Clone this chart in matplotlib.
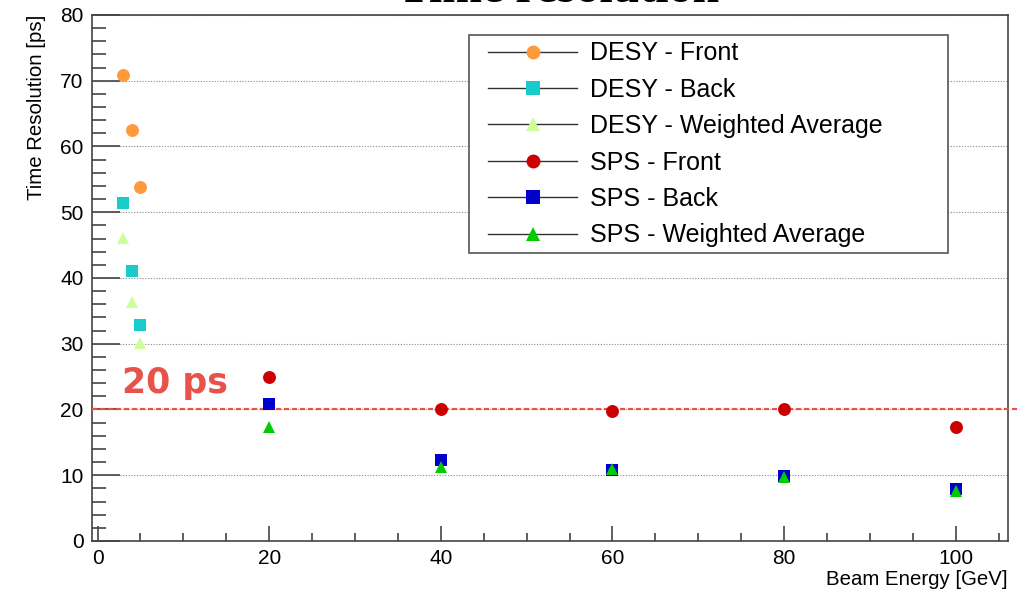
import numpy as np
import matplotlib
matplotlib.use("Agg")
from matplotlib import pyplot as plt
from matplotlib.ticker import MultipleLocator
from matplotlib.patches import Rectangle

# beam energies [GeV]
desy_E = [3, 4, 5]
sps_E = [20, 40, 60, 80, 100]

# time resolutions [ps]
desy_front = [70.8, 62.5, 53.8]
desy_back = [51.4, 41.0, 32.8]
desy_avg = [46.1, 36.3, 30.1]
sps_front = [24.9, 20.1, 19.7, 20.0, 17.4]
sps_back = [20.8, 12.3, 10.8, 9.9, 7.9]
sps_avg = [17.3, 11.3, 10.9, 9.8, 7.6]

ref_level = 20

plt.rcParams['font.family'] = ['Liberation Sans', 'DejaVu Sans']

W, H = 1019, 590
fig = plt.figure(figsize=(W / 100, H / 100), dpi=100)
ax = fig.add_axes([0.0903, 0.0831, 0.8989, 0.8915])

ms = 9.3
series = [
    (desy_E, desy_front, 'o', '#ff9a3c', 'DESY - Front'),
    (desy_E, desy_back, 's', '#19cccc', 'DESY - Back'),
    (desy_E, desy_avg, '^', '#ccff99', 'DESY - Weighted Average'),
    (sps_E, sps_front, 'o', '#cc0000', 'SPS - Front'),
    (sps_E, sps_back, 's', '#0000cc', 'SPS - Back'),
    (sps_E, sps_avg, '^', '#00cc00', 'SPS - Weighted Average'),
]
for x, y, m, c, lab in series:
    ax.plot(x, y, linestyle='none', marker=m, ms=ms, color=c,
            markeredgewidth=0, zorder=5, label=lab)

# 20 ps reference line (runs past the frame)
ax.axhline(ref_level, xmin=0, xmax=1.015, color='#e8524a', lw=1.6,
           linestyle=(0, (2.3, 1.3)), clip_on=False, zorder=4)
ax.text(2.8, 22.45, '20 ps', color='#e8524a', fontsize=25,
        family=['DejaVu Sans'], fontweight='bold',
        va='baseline', ha='left')

ax.set_xlim(-0.65, 106.1)
ax.set_ylim(0, 80)
ax.xaxis.set_major_locator(MultipleLocator(20))
ax.xaxis.set_minor_locator(MultipleLocator(5))
ax.yaxis.set_major_locator(MultipleLocator(10))
ax.yaxis.set_minor_locator(MultipleLocator(2))

ax.grid(axis='y', which='major', color='#888888', lw=0.8,
        linestyle=(0, (1, 1.5)))
ax.set_axisbelow(True)

for s in ax.spines.values():
    s.set_color('#444444')
    s.set_linewidth(1.2)
ax.tick_params(axis='both', which='both', direction='in', colors='#444444',
               labelcolor='black', labelsize=15, top=False, right=False)
ax.tick_params(axis='y', which='major', length=20, width=1.2, pad=6)
ax.tick_params(axis='y', which='minor', length=10, width=1.2)
ax.tick_params(axis='x', which='major', length=11, width=1.2, pad=6)
ax.tick_params(axis='x', which='minor', length=6, width=1.2)

ax.set_xlabel('Beam Energy [GeV]', fontsize=14.7, loc='right', labelpad=1)
ax.set_ylabel('Time Resolution [ps]', fontsize=14.7, loc='top', labelpad=10)

# legend: entries without frame, box drawn separately
leg = ax.legend(loc='upper left', bbox_to_anchor=(488 / W, 1 - 41.5 / H),
                bbox_transform=fig.transFigure,
                fontsize=18, frameon=False, handlelength=3.56,
                handletextpad=0.5, labelspacing=0.494, borderpad=0,
                borderaxespad=0, numpoints=1)
leg.set_zorder(10)
for h, (x, y, m, c, lab) in zip(leg.legend_handles, series):
    h.set_linestyle('-')
    h.set_linewidth(1.0)
    h.set_color('#333333')
    h.set_markerfacecolor(c)
    h.set_markeredgecolor(c)
    h.set_markersize(10)
box = Rectangle((469 / W, 1 - 253 / H), (948 - 469) / W, (253 - 35) / H,
                transform=fig.transFigure, facecolor='white',
                edgecolor='#555555', lw=1.2, zorder=9, clip_on=False)
ax.add_patch(box)

# title sits mostly above the canvas, only its bottom shows
fig.text(0.548, 1.0 - 2 / H, 'Time resolution', ha='center', va='baseline',
         fontsize=34.5, fontweight='bold',
         family=['Liberation Serif', 'DejaVu Serif'])

fig.savefig('out.png', dpi=100)
